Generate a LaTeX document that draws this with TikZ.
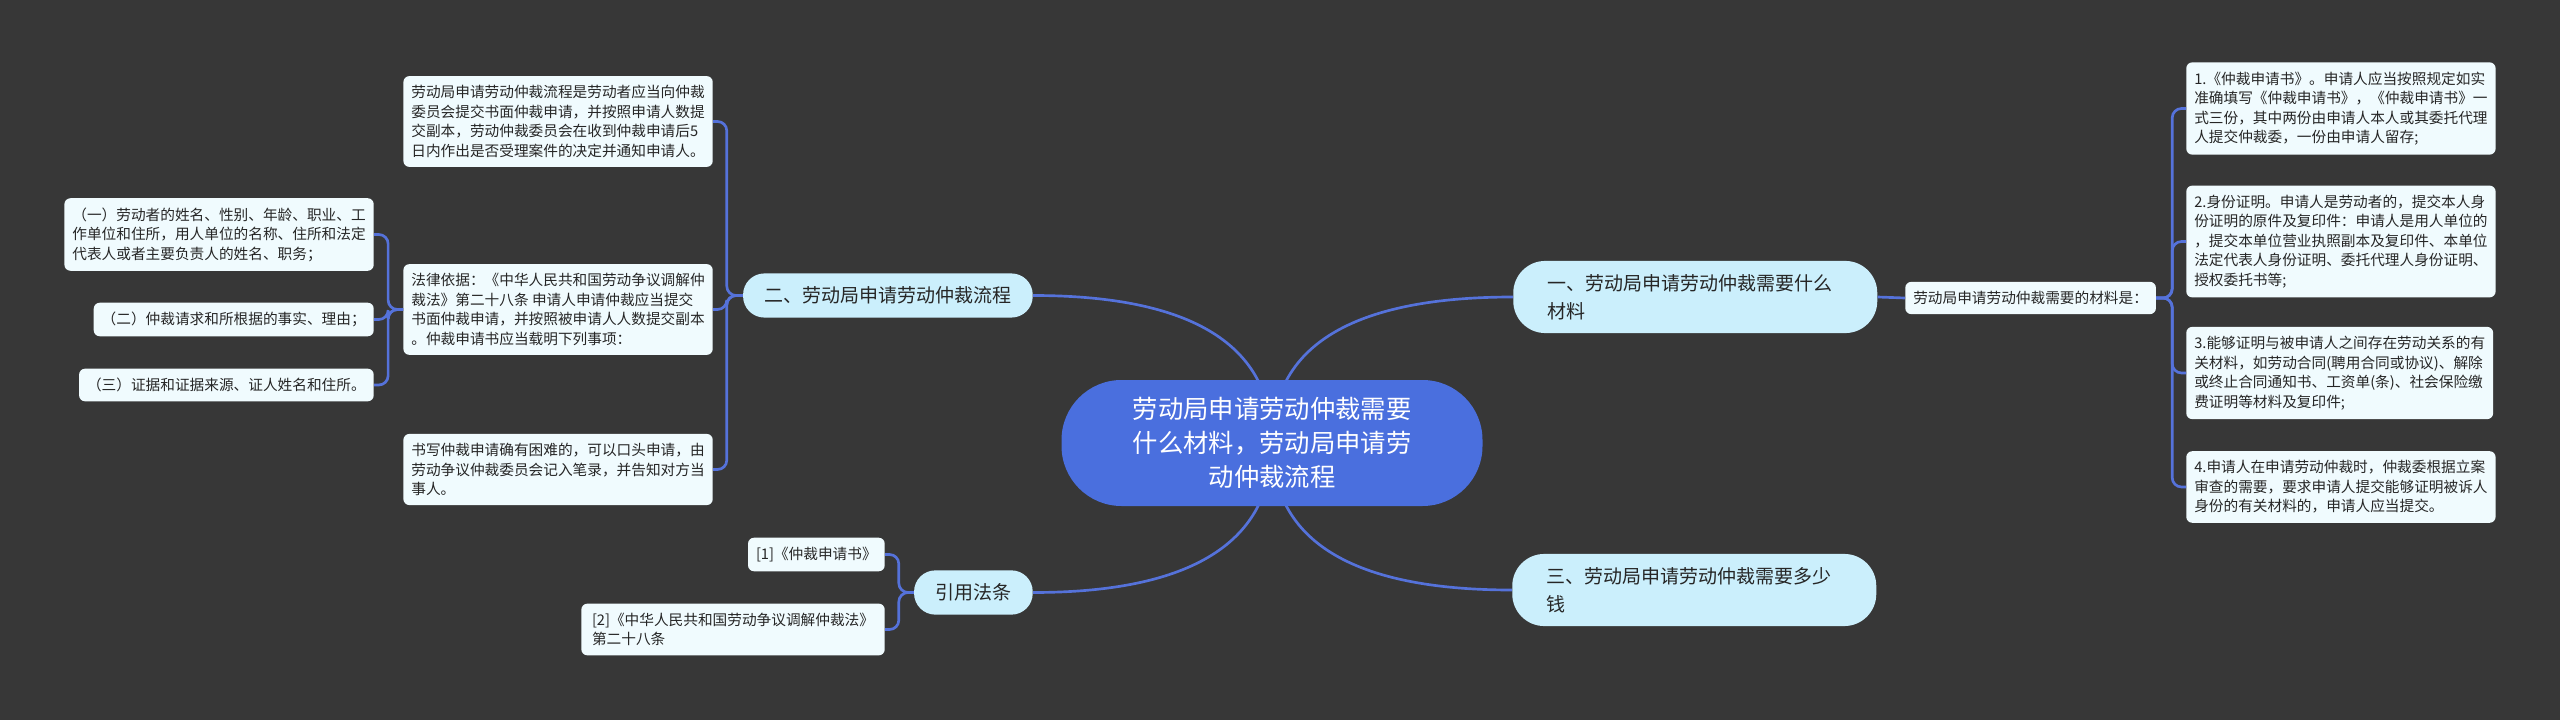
\documentclass[tikz,border=0pt]{standalone}
\usepackage{fontspec}
\setmainfont{Noto Sans CJK SC}
\usetikzlibrary{backgrounds}

\definecolor{bgcol}{HTML}{373737}
\definecolor{linecol}{HTML}{5572DA}
\definecolor{rootcol}{HTML}{4A6FDE}
\definecolor{branchcol}{HTML}{CBEFFC}
\definecolor{leafcol}{HTML}{F0FBFE}
\definecolor{txtcol}{HTML}{262626}

\begin{document}
\begin{tikzpicture}[
    x=0.75pt, y=-0.75pt,
    root/.style={fill=rootcol, rounded corners=45pt, minimum width=315.75pt, minimum height=94.5pt, align=center, text=white, font=\fontsize{19}{25.5}\selectfont},
    branch/.style={fill=branchcol, rounded corners=16pt, inner xsep=16pt, inner ysep=10pt, text=txtcol, font=\fontsize{14.25}{21}\selectfont},
    wide/.style={branch, rounded corners=24pt, inner xsep=25.5pt, text width=222pt, align=left},
    leaf/.style={fill=leafcol, rounded corners=4.5pt, inner xsep=6pt, inner ysep=7pt, align=left, text=txtcol, font=\fontsize{11}{14.6}\selectfont},
    conn/.style={draw=linecol, line width=2pt},
    fork/.style={conn, rounded corners=7pt}
]
\useasboundingbox (0,0) rectangle (2560,720);

% centre
\node[root] (root) at (1272,443) {劳动局申请劳动仲裁需要\\什么材料，劳动局申请劳\\动仲裁流程};

% right side
\node[wide, anchor=west] (b1) at (1513,297) {一、劳动局申请劳动仲裁需要什么\\材料};
\node[leaf, anchor=west] (mat) at (1905,298) {劳动局申请劳动仲裁需要的材料是：};
\node[leaf, anchor=west] (r1) at (2186,108.5) {1.《仲裁申请书》。申请人应当按照规定如实\\准确填写《仲裁申请书》，《仲裁申请书》一\\式三份，其中两份由申请人本人或其委托代理\\人提交仲裁委，一份由申请人留存;};
\node[leaf, anchor=west] (r2) at (2186,241.5) {2.身份证明。申请人是劳动者的，提交本人身\\份证明的原件及复印件：申请人是用人单位的\\，提交本单位营业执照副本及复印件、本单位\\法定代表人身份证明、委托代理人身份证明、\\授权委托书等;};
\node[leaf, anchor=west] (r3) at (2186,373) {3.能够证明与被申请人之间存在劳动关系的有\\关材料，如劳动合同(聘用合同或协议)、解除\\或终止合同通知书、工资单(条)、社会保险缴\\费证明等材料及复印件;};
\node[leaf, anchor=west] (r4) at (2186,487) {4.申请人在申请劳动仲裁时，仲裁委根据立案\\审查的需要，要求申请人提交能够证明被诉人\\身份的有关材料的，申请人应当提交。};
\node[wide, anchor=west] (b3) at (1512,590) {三、劳动局申请劳动仲裁需要多少\\钱};

% left side
\node[branch, anchor=east] (b2) at (1033,295.5) {二、劳动局申请劳动仲裁流程};
\node[leaf, anchor=east] (l1) at (713,121.5) {劳动局申请劳动仲裁流程是劳动者应当向仲裁\\委员会提交书面仲裁申请，并按照申请人数提\\交副本，劳动仲裁委员会在收到仲裁申请后5\\日内作出是否受理案件的决定并通知申请人。};
\node[leaf, anchor=east] (l2) at (713,309.5) {法律依据：《中华人民共和国劳动争议调解仲\\裁法》第二十八条 申请人申请仲裁应当提交\\书面仲裁申请，并按照被申请人人数提交副本\\。仲裁申请书应当载明下列事项：};
\node[leaf, anchor=east] (l3) at (713,469.5) {书写仲裁申请确有困难的，可以口头申请，由\\劳动争议仲裁委员会记入笔录，并告知对方当\\事人。};
\node[leaf, anchor=east] (s1) at (374,234.5) {（一）劳动者的姓名、性别、年龄、职业、工\\作单位和住所，用人单位的名称、住所和法定\\代表人或者主要负责人的姓名、职务；};
\node[leaf, anchor=east] (s2) at (374,319.5) {（二）仲裁请求和所根据的事实、理由；};
\node[leaf, anchor=east] (s3) at (374,385) {（三）证据和证据来源、证人姓名和住所。};
\node[branch, anchor=east] (cite) at (1033,592.5) {引用法条};
\node[leaf, anchor=east] (c1) at (885,554.5) {[1]《仲裁申请书》};
\node[leaf, anchor=east, inner xsep=8pt] (c2) at (885,629.5) {[2]《中华人民共和国劳动争议调解仲裁法》\\第二十八条};

% connectors
\draw[conn] (b1.east) -- (mat.west);
\foreach \n in {r1,r2,r3,r4}
    \draw[fork] (mat.east) -- ++(16,0) |- (\n.west);
\foreach \n in {l1,l2,l3}
    \draw[fork] (b2.west) -- ++(-16,0) |- (\n.east);
\foreach \n in {s1,s2,s3}
    \draw[fork] (l2.west) -- ++(-15,0) |- (\n.east);
\foreach \n in {c1,c2}
    \draw[fork] (cite.west) -- ++(-15,0) |- (\n.east);

\begin{scope}[on background layer]
\fill[bgcol] (0,0) rectangle (2560,720);
\draw[conn] (root.center) .. controls +(0,-98) and +(159,0) .. (b2.east);
\draw[conn] (root.center) .. controls +(0,-97) and +(-161,0) .. (b1.west);
\draw[conn] (root.center) .. controls +(0,98) and +(-160,0) .. (b3.west);
\draw[conn] (root.center) .. controls +(0,99) and +(159,0) .. (cite.east);
\end{scope}
\end{tikzpicture}
\end{document}
